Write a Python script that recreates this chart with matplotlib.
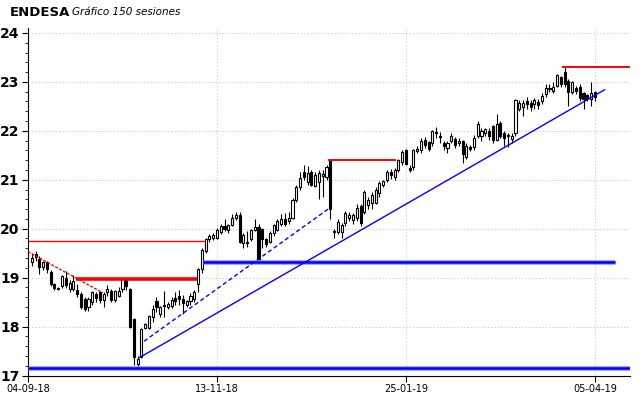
import matplotlib.pyplot as plt
import numpy as np
from matplotlib.ticker import MultipleLocator

# --- datos OHLC (150 sesiones) ---
opens = [19.31, 19.48, 19.39, 19.21, 19.31, 19.12, 18.86, 18.79, 18.83, 19.00,
         18.77, 18.77, 18.74, 18.66, 18.56, 18.39, 18.50, 18.66, 18.70, 18.54,
         18.70, 18.73, 18.54, 18.63, 18.77, 18.97, 18.77, 18.16, 17.23, 17.37,
         17.98, 17.98, 18.20, 18.52, 18.25, 18.45, 18.41, 18.43, 18.59, 18.62,
         18.56, 18.45, 18.52, 18.56, 18.86, 19.17, 19.54, 19.78, 19.82, 19.80,
         19.94, 20.05, 19.98, 20.08, 20.22, 20.29, 19.71, 19.71, 19.78, 19.98,
         20.04, 20.00, 19.78, 19.73, 19.92, 19.98, 20.10, 20.20, 20.15, 20.22,
         20.59, 20.86, 21.16, 20.96, 21.16, 20.87, 20.96, 21.08, 21.06, 21.41,
         19.95, 19.94, 19.94, 20.12, 20.22, 20.18, 20.22, 20.47, 20.35, 20.49,
         20.53, 20.53, 20.73, 20.90, 21.00, 21.16, 21.06, 21.20, 21.37, 21.60,
         21.25, 21.27, 21.58, 21.60, 21.82, 21.78, 21.76, 21.97, 21.90, 21.75,
         21.65, 21.80, 21.84, 21.75, 21.80, 21.46, 21.67, 21.67, 21.90, 21.90,
         21.96, 22.00, 22.10, 21.82, 22.16, 21.96, 21.92, 21.84, 21.96, 22.45,
         22.49, 22.61, 22.57, 22.55, 22.58, 22.61, 22.76, 22.85, 22.82, 22.92,
         23.10, 23.20, 23.02, 22.80, 22.88, 22.90, 22.78, 22.73, 22.65, 22.80]
highs = [19.51, 19.55, 19.45, 19.35, 19.34, 19.15, 18.90, 18.80, 19.05, 19.14,
         18.95, 19.05, 18.88, 18.70, 18.60, 18.60, 18.72, 18.70, 18.72, 18.70,
         18.85, 18.76, 18.75, 18.80, 18.99, 18.99, 18.78, 18.18, 17.40, 17.97,
         18.08, 18.24, 18.45, 18.60, 18.42, 18.72, 18.50, 18.60, 18.70, 18.75,
         18.64, 18.55, 18.68, 18.74, 19.20, 19.60, 19.82, 19.90, 19.92, 20.02,
         20.10, 20.20, 20.10, 20.30, 20.35, 20.35, 19.92, 19.95, 20.00, 20.20,
         20.10, 20.02, 19.82, 19.95, 20.10, 20.20, 20.30, 20.32, 20.35, 20.62,
         20.90, 21.15, 21.30, 21.28, 21.20, 21.15, 21.20, 21.20, 21.30, 21.41,
         20.00, 20.20, 20.12, 20.36, 20.35, 20.33, 20.50, 20.50, 20.80, 20.65,
         20.75, 20.86, 20.98, 21.00, 21.20, 21.22, 21.25, 21.43, 21.60, 21.62,
         21.30, 21.62, 21.70, 21.85, 21.88, 21.80, 22.02, 22.08, 21.98, 21.80,
         21.80, 21.95, 21.88, 21.85, 21.82, 21.75, 21.72, 21.92, 22.20, 22.05,
         22.06, 22.05, 22.12, 22.35, 22.20, 22.00, 21.96, 21.95, 22.65, 22.62,
         22.62, 22.70, 22.62, 22.68, 22.65, 22.78, 22.95, 22.95, 23.00, 23.16,
         23.12, 23.30, 23.05, 23.02, 22.92, 22.95, 22.80, 22.76, 23.00, 22.82]
lows = [19.24, 19.35, 19.08, 19.15, 19.10, 18.82, 18.75, 18.74, 18.78, 18.78,
        18.70, 18.72, 18.60, 18.35, 18.32, 18.32, 18.45, 18.50, 18.48, 18.40,
        18.62, 18.50, 18.50, 18.60, 18.70, 18.75, 17.98, 17.21, 17.14, 17.35,
        17.96, 17.95, 18.10, 18.30, 18.20, 18.20, 18.35, 18.38, 18.45, 18.45,
        18.25, 18.40, 18.45, 18.50, 18.70, 19.10, 19.50, 19.72, 19.76, 19.78,
        19.90, 19.95, 19.92, 20.05, 20.18, 19.70, 19.61, 19.62, 19.75, 19.95,
        19.30, 19.60, 19.62, 19.70, 19.85, 19.95, 20.05, 20.05, 20.10, 20.20,
        20.55, 20.80, 21.00, 20.90, 20.88, 20.85, 20.60, 20.65, 21.00, 20.20,
        19.80, 19.90, 19.80, 20.05, 20.15, 20.10, 20.15, 20.05, 20.30, 20.40,
        20.40, 20.50, 20.65, 20.85, 20.95, 21.02, 21.00, 21.15, 21.30, 21.30,
        21.15, 21.20, 21.55, 21.55, 21.65, 21.58, 21.70, 21.85, 21.75, 21.60,
        21.55, 21.75, 21.65, 21.70, 21.35, 21.42, 21.58, 21.60, 21.85, 21.80,
        21.90, 21.82, 21.75, 21.80, 21.85, 21.70, 21.67, 21.75, 21.90, 22.40,
        22.30, 22.45, 22.40, 22.45, 22.45, 22.55, 22.70, 22.80, 22.78, 22.90,
        22.90, 22.90, 22.50, 22.75, 22.75, 22.60, 22.45, 22.60, 22.50, 22.60]
closes = [19.41, 19.42, 19.22, 19.31, 19.18, 18.86, 18.78, 18.76, 19.03, 18.84,
          18.90, 18.93, 18.66, 18.39, 18.36, 18.56, 18.70, 18.59, 18.54, 18.66,
          18.76, 18.54, 18.73, 18.73, 18.97, 18.83, 18.00, 17.37, 17.33, 17.95,
          18.05, 18.22, 18.35, 18.39, 18.39, 18.42, 18.47, 18.54, 18.52, 18.57,
          18.49, 18.52, 18.62, 18.70, 19.18, 19.57, 19.78, 19.86, 19.87, 19.98,
          20.06, 20.00, 20.07, 20.22, 20.29, 19.73, 19.88, 19.73, 19.98, 20.04,
          19.37, 19.78, 19.69, 19.92, 20.08, 20.15, 20.20, 20.10, 20.22, 20.59,
          20.86, 21.04, 21.06, 21.14, 20.90, 21.10, 21.14, 21.12, 21.27, 20.41,
          19.93, 20.14, 20.08, 20.33, 20.29, 20.29, 20.43, 20.12, 20.76, 20.59,
          20.69, 20.80, 20.94, 20.97, 21.16, 21.10, 21.20, 21.41, 21.57, 21.33,
          21.20, 21.60, 21.62, 21.80, 21.71, 21.63, 22.00, 21.95, 21.87, 21.70,
          21.75, 21.90, 21.71, 21.80, 21.53, 21.70, 21.63, 21.86, 22.14, 22.00,
          22.03, 21.90, 21.82, 22.14, 21.90, 21.86, 21.90, 21.90, 22.63, 22.57,
          22.57, 22.55, 22.48, 22.63, 22.53, 22.72, 22.88, 22.88, 22.90, 23.14,
          22.96, 22.96, 22.80, 23.00, 22.82, 22.67, 22.65, 22.65, 22.78, 22.69]

tick_labels = ["04-09-18", "13-11-18", "25-01-19", "05-04-19"]
tick_pos = [-1, 49, 99, 149]

# líneas dibujadas (x = índice de sesión, y = precio)
soportes_azules = [17.15, 19.32]
soporte_inicio = [-1, 45.3]
soporte_fin = [158.3, 154.3]
resist_rojas = [19.75, 18.98, 21.40, 23.30]
resist_inicio = [-1, 11.7, 78.4, 140.3]
resist_fin = [45.8, 43.7, 96.5, 158.3]
resist_grosor = [1.0, 2.6, 1.4, 1.4]
tendencia_x = [28.6, 151.6]
tendencia_y = [17.37, 22.84]
tend_disc_x = [29.7, 78.4]
tend_disc_y = [17.70, 20.40]
bajista_x = [-1, 18.8]
bajista_y = [19.53, 18.69]

X_LIM = [-1, 158.3]
Y_LIM = [17.0, 24.1]

# --- figura ---
fig = plt.figure(figsize=(6.4, 3.98), dpi=100)
ax = fig.add_axes([0.04375, 0.0565, 0.9406, 0.873])

o = np.array(opens)
h = np.array(highs)
l = np.array(lows)
c = np.array(closes)
x = np.arange(len(o))
sube = c >= o

ax.vlines(x, l, h, color="black", lw=0.8, zorder=2)
cuerpo = np.maximum(np.abs(c - o), 0.015)
ax.bar(x, cuerpo, bottom=np.minimum(o, c), width=0.55,
       color=np.where(sube, "white", "black"), edgecolor="black",
       linewidth=0.8, zorder=3)

# soportes (azul grueso)
for nivel, x0, x1 in zip(soportes_azules, soporte_inicio, soporte_fin):
    ax.plot([x0, x1], [nivel, nivel], color="#9a9aff", lw=3.4,
            solid_capstyle="butt", zorder=4)
    ax.plot([x0, x1], [nivel, nivel], color="#0000ff", lw=1.8,
            solid_capstyle="butt", zorder=5)

# resistencias (rojo)
for nivel, x0, x1, lw in zip(resist_rojas, resist_inicio, resist_fin, resist_grosor):
    ax.plot([x0, x1], [nivel, nivel], color="#ff0000", lw=lw,
            solid_capstyle="butt", zorder=5)

ax.plot(tendencia_x, tendencia_y, color="#0000ff", lw=1.0, zorder=5)
ax.plot(tend_disc_x, tend_disc_y, color="#0000ff", lw=1.0,
        dashes=(3, 2), zorder=5)
ax.plot(bajista_x, bajista_y, color="#ff0000", lw=1.0,
        dashes=(2, 1.2), zorder=5)

# ejes
ax.set_xlim(X_LIM)
ax.set_ylim(Y_LIM)
ax.set_xticks(tick_pos)
ax.set_xticklabels(tick_labels)
ax.set_yticks(range(17, 25))
ax.yaxis.set_minor_locator(MultipleLocator(0.2))
ax.tick_params(axis="y", which="major", direction="out", length=4,
               labelsize=10, pad=2)
ax.tick_params(axis="y", which="minor", direction="out", length=2)
ax.tick_params(axis="x", direction="out", length=4, labelsize=7, pad=2)
for t in ax.get_yticklabels():
    t.set_fontweight("bold")
for lado in ["top", "right"]:
    ax.spines[lado].set_visible(False)
ax.grid(True, which="major", color="#d4c8dc", linestyle=(0, (1.5, 2)), lw=0.7,
        zorder=0)
ax.set_axisbelow(True)

fig.text(10 / 640, 1 - 12 / 398, "ENDESA", fontsize=9.5, fontweight="bold",
         va="center", ha="left")
fig.text(72 / 640, 1 - 12 / 398, "Gráfico 150 sesiones", fontsize=7.5,
         style="italic", va="center", ha="left")

fig.savefig("out.png", dpi=100)
